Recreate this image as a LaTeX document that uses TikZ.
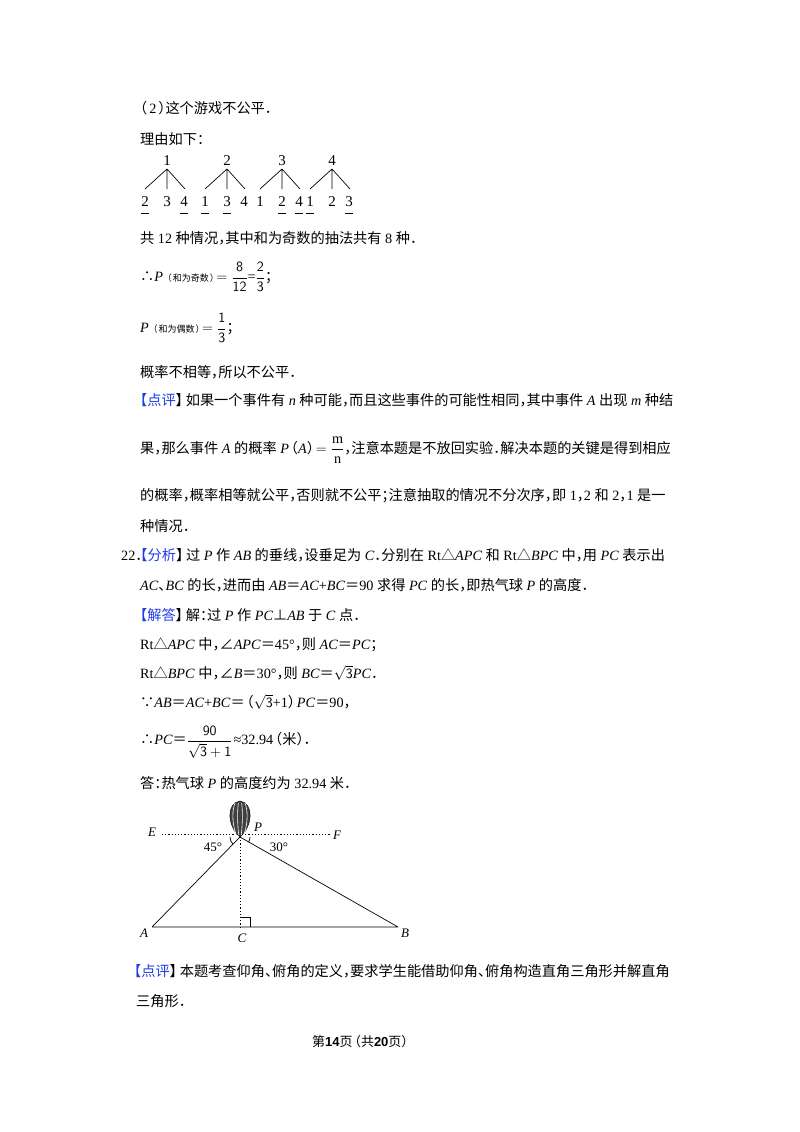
\documentclass[tikz,border=0pt]{standalone}
\usepackage{amsmath}
\usepackage{fontspec}
\setmainfont{Liberation Serif}
\newfontfamily\cjk[RawFeature=+halt]{Noto Sans CJK SC}
\newfontfamily\ftsans{Liberation Sans}
\XeTeXinterchartokenstate=1
\newXeTeXintercharclass\CJKcls
\newcount\cc
\def\setrange#1#2{\cc=#1 \loop \XeTeXcharclass\cc=\CJKcls \ifnum\cc<#2 \advance\cc by 1 \repeat}
\setrange{"4E00}{"9FFF}
\setrange{"3000}{"303F}
\setrange{"FF00}{"FFEF}
\XeTeXcharclass"2234=\CJKcls
\XeTeXcharclass"2235=\CJKcls
\XeTeXcharclass"25B3=\CJKcls
\XeTeXcharclass"2220=\CJKcls
\XeTeXcharclass"22A5=\CJKcls
\XeTeXinterchartoks 0 \CJKcls = {\begingroup\cjk}
\XeTeXinterchartoks 4095 \CJKcls = {\begingroup\cjk}
\XeTeXinterchartoks \CJKcls 0 = {\endgroup}
\XeTeXinterchartoks \CJKcls 4095 = {\endgroup}
\definecolor{hd}{RGB}{30,60,230}
\newcommand{\I}[1]{\textit{#1}}
\newcommand{\sm}[1]{{\fontsize{9}{10}\selectfont #1}}
\newcommand{\hd}[1]{{\color{hd}\kern-2pt【#1}】\kern3pt}
\tikzset{
  txt/.style={anchor=west,inner sep=0pt,font=\fontsize{14.2}{17}\selectfont},
  num/.style={inner sep=0pt,font=\fontsize{15}{18}\selectfont},
  br/.style={line width=0.7pt},
  ul/.style={line width=0.8pt},
  geo/.style={line width=0.7pt},
  dot/.style={line width=0.8pt,dash pattern=on 1.2pt off 2pt}
}
\begin{document}
\begin{tikzpicture}[x=1pt,y=-1pt]
\useasboundingbox[fill=white] (0,0) rectangle (800,1132);
\node[txt] (l1) at (140,108) {（\kern2pt2\kern2pt）这个游戏不公平．};
\node[txt] (l2) at (140,139) {理由如下：};
% trees
\foreach \ax/\t/\a/\b/\c [count=\k] in {167/1/2/3/4,227/2/1/3/4,282/3/1/2/4,332/4/1/2/3}{
  \node[num] (t\k) at (\ax,161) {\t};
  \coordinate (ap\k) at (\ax,169);
  \coordinate (e\k a) at (\ax-22,189);
  \coordinate (e\k b) at (\ax,189);
  \coordinate (e\k c) at (\ax+18,189);
  \draw[br] (e\k a) -- (ap\k) -- (e\k c) (ap\k) -- (e\k b);
  \node[num] (n\k a) at (\ax-22,202) {\a};
  \node[num] (n\k b) at (\ax,202) {\b};
  \node[num] (n\k c) at (\ax+17,202) {\c};
}
\foreach \k/\p in {1/a,1/c,2/a,2/b,3/b,3/c,4/a,4/c}{
  \draw[ul] ([xshift=-4pt,yshift=-11pt]n\k\p.center) -- ([xshift=4pt,yshift=-11pt]n\k\p.center);
}
\node[txt] (l3) at (140,238) {共 12 种情况，其中和为奇数的抽法共有 8 种．};
\node[txt] (l4) at (140,277) {∴\I{P}\,\sm{\kern2pt（\kern1pt和为奇数\kern1pt）\kern2pt}$=\dfrac{\mathsf{8}}{\mathsf{12}}$=$\dfrac{\mathsf{2}}{\mathsf{3}}$；};
\node[txt] (l5) at (140,328) {\I{P}\,\sm{\kern2pt（\kern1pt和为偶数\kern1pt）\kern2pt}$=\dfrac{\mathsf{1}}{\mathsf{3}}$；};
\node[txt] (l6) at (140,372) {概率不相等，所以不公平．};
\node[txt] (l7) at (142,400) {\hd{点评}如果一个事件有 \I{n} 种可能，而且这些事件的可能性相同，其中事件 \I{A} 出现 \I{m} 种结};
\node[txt] (l8) at (140,450) {果，那么事件 \I{A} 的概率 \I{P}\kern2pt（\I{A}）\kern2pt$=\dfrac{\mathrm{m}}{\mathrm{n}}$，注意本题是不放回实验．解决本题的关键是得到相应};
\node[txt] (l9) at (140,496) {的概率，概率相等就公平，否则就不公平；注意抽取的情况不分次序，即 1，2 和 2，1 是一};
\node[txt] (l10) at (140,526) {种情况．};
\node[txt] (l11) at (121,555) {22．\hd{分析}过 \I{P} 作 \I{AB} 的垂线，设垂足为 \I{C}．分别在 Rt△\I{APC} 和 Rt△\I{BPC} 中，用 \I{PC} 表示出};
\node[txt] (l12) at (140,585) {\I{AC}、\I{BC} 的长，进而由 \I{AB}＝\I{AC}+\I{BC}＝90 求得 \I{PC} 的长，即热气球 \I{P} 的高度．};
\node[txt] (l13) at (142,615) {\hd{解答}解：过 \I{P} 作 \I{PC}⊥\I{AB} 于 \I{C} 点．};
\node[txt] (l14) at (140,645) {Rt△\I{APC} 中，∠\I{APC}＝45°，则 \I{AC}＝\I{PC}；};
\node[txt] (l15) at (140,673) {Rt△\I{BPC} 中，∠\I{B}＝30°，则 \I{BC}＝$\sqrt{\mathsf{3}}$\I{PC}．};
\node[txt] (l16) at (140,702) {∵\I{AB}＝\I{AC}+\I{BC}＝\kern2pt（$\sqrt{\mathsf{3}}$+1）\kern2pt\I{PC}＝90，};
\node[txt] (l17) at (140,742) {∴\I{PC}＝$\dfrac{\mathsf{90}}{\sqrt{\mathsf{3}}+\mathsf{1}}$\kern1pt≈32.94\kern2pt（米）．};
\node[txt] (l18) at (140,783) {答：热气球 \I{P} 的高度约为 32.94 米．};
% figure
\coordinate (P) at (240,837);
\coordinate (A) at (152,927);
\coordinate (B) at (398,927);
\coordinate (C) at (240,927);
\coordinate (Ee) at (162,834);
\coordinate (Fe) at (330,834);
\draw[dot] (Ee) -- (Fe);
\draw[dot] (P) -- (C);
\draw[geo] (A) -- (P) -- (B) (A) -- (B);
\draw[geo] (C) ++(0,-10) -- ++(10,0) -- ++(0,10);
\draw[fill=black!75] (P) .. controls (227,826) and (226,803) .. (240,801) .. controls (254,803) and (253,826) .. (P);
\foreach \s in {-6,-2,2,6}{\draw[white,line width=0.6pt] (240+\s*0.6,835) .. controls (240+\s*1.4,824) and (240+\s*1.3,808) .. (240+\s*0.8,803);}
\draw[geo] ([shift={(-10,0)}]P) arc[start angle=180,end angle=135,radius=10];
\draw[geo] ([shift={(10,0)}]P) arc[start angle=0,end angle=30,radius=10];
\node[num,font=\fontsize{13}{14}\selectfont\itshape] (lE) at (152,832) {E};
\node[num,font=\fontsize{13}{14}\selectfont\itshape] (lF) at (337,835) {F};
\node[num,font=\fontsize{13}{14}\selectfont\itshape] (lP) at (258,827) {P};
\node[num,font=\fontsize{13}{14}\selectfont\itshape] (lA) at (144,933) {A};
\node[num,font=\fontsize{13}{14}\selectfont\itshape] (lC) at (242,938) {C};
\node[num,font=\fontsize{13}{14}\selectfont\itshape] (lB) at (405,933) {B};
\node[num,font=\fontsize{13}{14}\selectfont] (a45) at (213,847) {45°};
\node[num,font=\fontsize{13}{14}\selectfont] (a30) at (279,847) {30°};
\node[txt] (l19) at (136,971) {\hd{点评}本题考查仰角、俯角的定义，要求学生能借助仰角、俯角构造直角三角形并解直角};
\node[txt] (l20) at (136,1001) {三角形．};
\node[inner sep=0pt,font=\fontsize{13}{15}\selectfont] (ft) at (360,1042) {第{\ftsans\bfseries 14}页\kern2pt（共{\ftsans\bfseries 20}页）};
\end{tikzpicture}
\end{document}
